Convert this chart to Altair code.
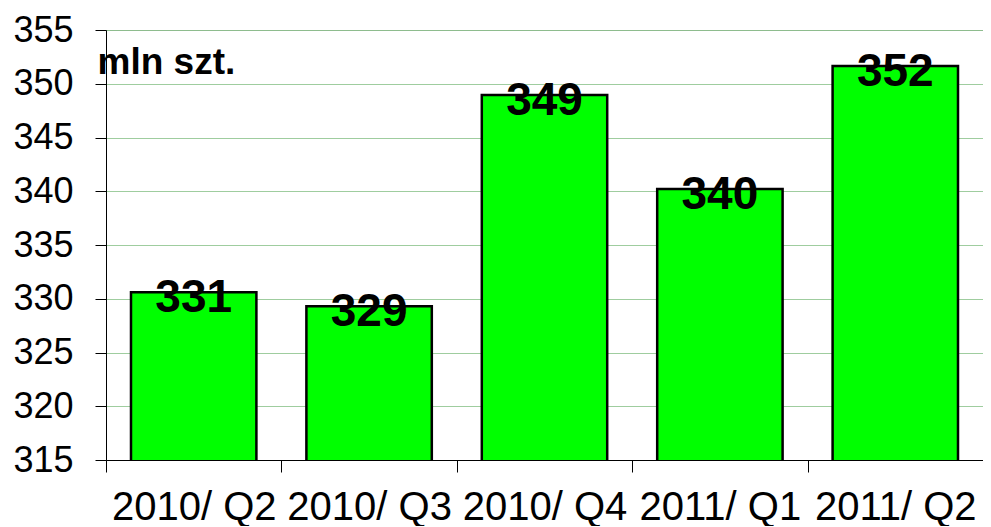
import altair as alt
import pandas as pd

quarters = ["2010/ Q2", "2010/ Q3", "2010/ Q4", "2011/ Q1", "2011/ Q2"]
values = [330.6, 329.3, 348.95, 340.2, 351.65]
y_ticks = [315, 320, 325, 330, 335, 340, 345, 350, 355]
unit = "mln szt."

df = pd.DataFrame({"q": quarters, "v": values})
FONT = "Liberation Sans"

x = alt.X("q:N", sort=quarters, title=None,
          scale=alt.Scale(paddingInner=0, paddingOuter=0),
          axis=alt.Axis(labelAngle=0, labelFontSize=40, labelFont=FONT, labelColor="black",
                        labelOverlap=False, labelBound=False, labelLimit=0, labelFlush=False,
                        labelPadding=15, tickSize=12, tickColor="black", domainColor="black",
                        tickBand="extent", grid=False))
y = alt.Y("v:Q", title=unit,
          scale=alt.Scale(domain=[315, 355], zero=False, nice=False),
          axis=alt.Axis(values=y_ticks, labelFontSize=36, labelFont=FONT, labelColor="black",
                        labelPadding=22, tickSize=11, tickColor="black", domainColor="black",
                        grid=True, gridColor="#3f9a3f", gridDash=[1, 1], gridWidth=1,
                        titleAngle=0, titleAlign="left", titleBaseline="middle",
                        titleX=-9, titleY=32, titleFont=FONT, titleFontSize=37,
                        titleFontWeight="bold", titleColor="black"))

base = alt.Chart(df)
bars = base.mark_bar(color="#00ff00", stroke="black", strokeWidth=2.5, clip=True,
                     width=alt.RelativeBandSize(0.715)).encode(x=x, y=y)
labels = base.mark_text(font=FONT, fontSize=46, fontWeight="bold", color="black",
                        baseline="middle", dy=6).encode(
    x=alt.X("q:N", sort=quarters), y="v:Q", text=alt.Text("v:Q", format=".0f"))

chart = (bars + labels).properties(
    width=877, height=430,
    autosize=alt.AutoSizeParams(type="none"),
    padding={"left": 98, "top": 22, "right": 0, "bottom": 66},
).configure_view(stroke="#888888", strokeWidth=1).configure(background="white")

chart.save("out.html", embed_options={"renderer": "svg", "actions": False})
